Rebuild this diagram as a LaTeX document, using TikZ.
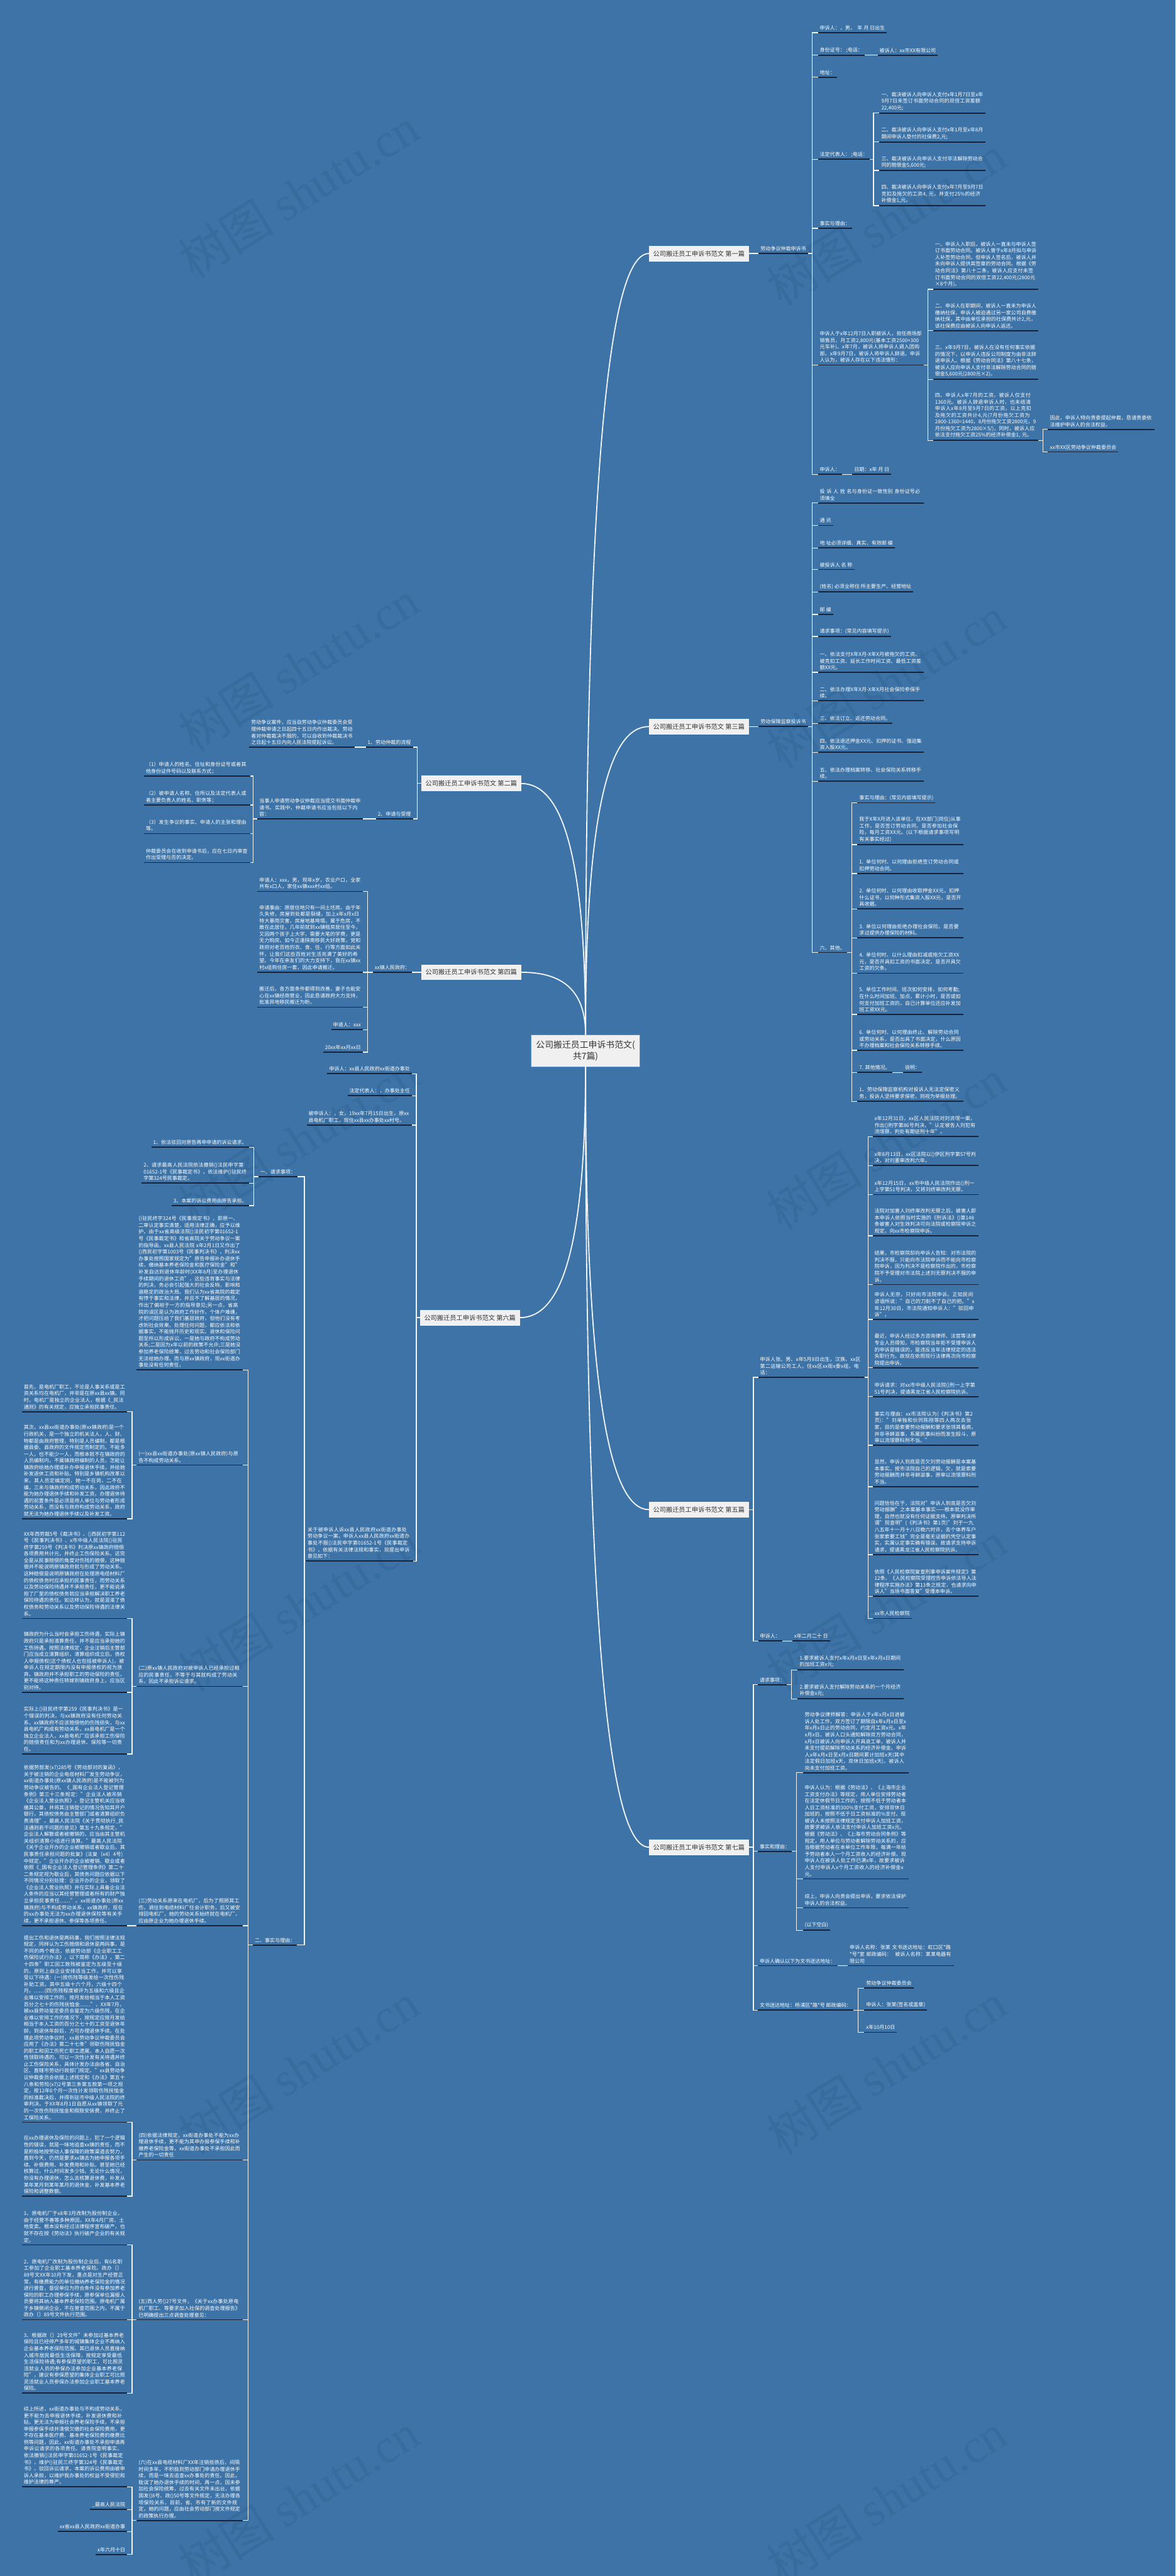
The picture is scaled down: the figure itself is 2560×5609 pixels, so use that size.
\documentclass[tikz,border=0pt]{standalone}
\usepackage{fontspec}
\setmainfont{Noto Sans CJK SC}
\newfontfamily\wmserif{Liberation Serif}
\XeTeXlinebreaklocale "zh"
\XeTeXlinebreakskip = 0pt plus 1pt
\definecolor{bg}{HTML}{3D73A6}
\definecolor{wm}{HTML}{386C9E}
\definecolor{ulc}{HTML}{15243A}
\definecolor{linec}{HTML}{F2F5F8}
\definecolor{boxc}{HTML}{F0F0F0}
\definecolor{tdark}{HTML}{333333}
\definecolor{rootedge}{HTML}{5B93D1}
\newcommand{\leaffont}{\fontsize{11}{14.5}\selectfont}
\newcommand{\topicfont}{\fontsize{14}{17}\selectfont}
\newcommand{\rootfont}{\fontsize{19}{24}\selectfont}
\newcommand{\wmfont}{\fontsize{105}{110}\selectfont}

\begin{document}
\begin{tikzpicture}[x=1pt, y=-1pt]
    \tikzstyle{uline}=[draw=ulc, line width=2.5pt]
    \tikzstyle{leaf}=[font=\leaffont, text=white, inner xsep=4pt, inner ysep=5pt, align=left, append after command={(\tikzlastnode.south west) edge[uline] (\tikzlastnode.south east)}]
    \tikzstyle{rleaf}=[leaf, anchor=south west]
    \tikzstyle{lleaf}=[leaf, anchor=south east]
    \tikzstyle{topic}=[fill=boxc, text=tdark, font=\topicfont, inner xsep=9pt, minimum height=34pt]
    \tikzstyle{rootbox}=[fill=boxc, draw=rootedge, line width=1pt, text=tdark, font=\rootfont, align=center, minimum width=237pt, minimum height=69pt]
    \tikzstyle{conn}=[draw=linec, line width=1.8pt]
    \tikzstyle{branchline}=[draw=linec, line width=2.5pt]
    \tikzstyle{wmtext}=[text=wm, font=\wmfont, rotate=32]

    \useasboundingbox (0,0) rectangle (2560,5609);
    \fill[bg] (0,0) rectangle (2560,5609);

    \node[wmtext] (wm1) at (650,420) {树图 {\wmserif shutu.cn}};
    \node[wmtext] (wm2) at (650,1450) {树图 {\wmserif shutu.cn}};
    \node[wmtext] (wm3) at (650,2480) {树图 {\wmserif shutu.cn}};
    \node[wmtext] (wm4) at (650,3498) {树图 {\wmserif shutu.cn}};
    \node[wmtext] (wm5) at (650,4504) {树图 {\wmserif shutu.cn}};
    \node[wmtext] (wm6) at (650,5440) {树图 {\wmserif shutu.cn}};
    \node[wmtext] (wm7) at (1930,480) {树图 {\wmserif shutu.cn}};
    \node[wmtext] (wm8) at (1930,1486) {树图 {\wmserif shutu.cn}};
    \node[wmtext] (wm9) at (1930,2492) {树图 {\wmserif shutu.cn}};
    \node[wmtext] (wm10) at (1930,3498) {树图 {\wmserif shutu.cn}};
    \node[wmtext] (wm11) at (1930,4504) {树图 {\wmserif shutu.cn}};
    \node[wmtext] (wm12) at (1930,5440) {树图 {\wmserif shutu.cn}};

    \node[rootbox] (root) at (1275,2288) {公司搬迁员工申诉书范文(\\共7篇)};

    \node[topic, anchor=west] (p1) at (1413,552) {公司搬迁员工申诉书范文 第一篇};
    \node[topic, anchor=east] (p2) at (1135,1706) {公司搬迁员工申诉书范文 第二篇};
    \node[topic, anchor=west] (p3) at (1413,1582) {公司搬迁员工申诉书范文 第三篇};
    \node[topic, anchor=east] (p4) at (1135,2117) {公司搬迁员工申诉书范文 第四篇};
    \node[topic, anchor=west] (p5) at (1413,3287) {公司搬迁员工申诉书范文 第五篇};
    \node[topic, anchor=east] (p6) at (1132,2869) {公司搬迁员工申诉书范文 第六篇};
    \node[topic, anchor=west] (p7) at (1413,4022) {公司搬迁员工申诉书范文 第七篇};

    \draw[branchline] (root.north) .. controls (1275,977) and (1330,552) .. (p1.west);
    \draw[branchline] (root.north) .. controls (1275,1843) and (1219,1706) .. (p2.east);
    \draw[branchline] (root.north) .. controls (1275,1750) and (1330,1582) .. (p3.west);
    \draw[branchline] (root.north) .. controls (1275,2151) and (1219,2117) .. (p4.east);
    \draw[branchline] (root.south) .. controls (1275,3046) and (1330,3287) .. (p5.west);
    \draw[branchline] (root.south) .. controls (1275,2732) and (1218,2869) .. (p6.east);
    \draw[branchline] (root.south) .. controls (1275,3597) and (1330,4022) .. (p7.west);

    % 第一篇
    \node[rleaf] (p1t) at (1652,552) {劳动争议仲裁申诉书};
    \node[rleaf] (p1a) at (1781,71) {申诉人：，男，\ \ 年 月 日出生};
    \node[rleaf] (p1b) at (1781,120) {身份证号：\ ;电话：};
    \node[rleaf] (p1b1) at (1911,120) {被诉人：xx市XX有限公司};
    \node[rleaf] (p1c) at (1781,168) {地址：};
    \node[rleaf] (p1d) at (1781,347) {法定代表人：\ ;电话：};
    \node[rleaf, text width=222pt] (p1d1) at (1915,246) {一、裁决被诉人向申诉人支付x年1月7日至x年9月7日未签订书面劳动合同的双倍工资差额22,400元;};
    \node[rleaf, text width=222pt] (p1d2) at (1915,309) {二、裁决被诉人向申诉人支付x年1月至x年8月期间申诉人垫付的社保费2,元;};
    \node[rleaf, text width=222pt] (p1d3) at (1915,371) {三、裁决被诉人向申诉人支付非法解除劳动合同的赔偿金5,600元;};
    \node[rleaf, text width=222pt] (p1d4) at (1915,448) {四、裁决被诉人向申诉人支付x年7月至9月7日克扣及拖欠的工资4, 元，并支付25\%的经济补偿金1,元。};
    \node[rleaf] (p1e) at (1781,497) {事实与理由：};
    \node[rleaf, text width=222pt] (p1f) at (1781,795) {申诉人于x年12月7日入职被诉人，担任商场部销售员，月工资2,800元(基本工资2500+300元车补)。x年7月，被诉人将申诉人调入团购部。x年9月7日，被诉人将申诉人辞退。申诉人认为，被诉人存在以下违法情形：};
    \node[rleaf, text width=221pt] (p1f1) at (2032,630) {一、申诉人入职后，被诉人一直未与申诉人签订书面劳动合同。被诉人曾于x年8月拟与申诉人补签劳动合同，但申诉人签名后，被诉人并未向申诉人提供其签章的劳动合同。根据《劳动合同法》第八十二条，被诉人应支付未签订书面劳动合同的双倍工资22,400元(2800元×8个月)。};
    \node[rleaf, text width=221pt] (p1f2) at (2032,720) {二、申诉人在职期间，被诉人一直未为申诉人缴纳社保，申诉人被迫通过另一家公司自费缴纳社保，其中由单位承担的社保费共计2,元，该社保费应由被诉人向申诉人返还。};
    \node[rleaf, text width=221pt] (p1f3) at (2032,826) {三、x年9月7日，被诉人在没有任何事实依据的情况下，以申诉人违反公司制度为由非法辞退申诉人。根据《劳动合同法》第八十七条，被诉人应向申诉人支付非法解除劳动合同的赔偿金5,600元(2800元×2)。};
    \node[rleaf, text width=221pt] (p1f4) at (2032,959) {四、申诉人x年7月的工资，被诉人仅支付1360元。被诉人辞退申诉人时，也未结清申诉人x年8月至9月7日的工资，以上克扣及拖欠的工资共计4,元(7月份拖欠工资为2800-1360=1440，8月份拖欠工资2800元，9月份拖欠工资为2800×5/)，同时，被诉人应依法支付拖欠工资25\%的经济补偿金1, 元。};
    \node[rleaf, text width=224pt] (p1f41) at (2282,935) {因此，申诉人特向贵委提起仲裁，恳请贵委依法维护申诉人的合法权益。};
    \node[rleaf] (p1f42) at (2282,984) {xx市XX区劳动争议仲裁委员会};
    \node[rleaf] (p1g) at (1781,1033) {申诉人：};
    \node[rleaf] (p1g1) at (1856,1033) {日期：x年 月 日};
    \draw[conn] (p1.east) -- (p1t.south west);
    \draw[conn] (p1t.south east) -- ++(9,0) |- (p1a.south west);
    \draw[conn] (p1t.south east) -- ++(9,0) |- (p1b.south west);
    \draw[conn] (p1t.south east) -- ++(9,0) |- (p1c.south west);
    \draw[conn] (p1t.south east) -- ++(9,0) |- (p1d.south west);
    \draw[conn] (p1t.south east) -- ++(9,0) |- (p1e.south west);
    \draw[conn] (p1t.south east) -- ++(9,0) |- (p1f.south west);
    \draw[conn] (p1t.south east) -- ++(9,0) |- (p1g.south west);
    \draw[conn] (p1b.south east) -- (p1b1.south west);
    \draw[conn] (p1d.south east) -- ++(8,0) |- (p1d1.south west);
    \draw[conn] (p1d.south east) -- ++(8,0) |- (p1d2.south west);
    \draw[conn] (p1d.south east) -- ++(8,0) |- (p1d3.south west);
    \draw[conn] (p1d.south east) -- ++(8,0) |- (p1d4.south west);
    \draw[conn] (p1f.south east) -- ++(9,0) |- (p1f1.south west);
    \draw[conn] (p1f.south east) -- ++(9,0) |- (p1f2.south west);
    \draw[conn] (p1f.south east) -- ++(9,0) |- (p1f3.south west);
    \draw[conn] (p1f.south east) -- ++(9,0) |- (p1f4.south west);
    \draw[conn] (p1f4.south east) -- ++(10,0) |- (p1f41.south west);
    \draw[conn] (p1f4.south east) -- ++(10,0) |- (p1f42.south west);
    \draw[conn] (p1g.south east) -- (p1g1.south west);

    % 第三篇
    \node[rleaf] (p3t) at (1652,1582) {劳动保障监察投诉书};
    \node[rleaf, text width=222pt] (p3a) at (1781,1095) {投 诉 人 姓 名与身份证一致性别 身份证号必须填全};
    \node[rleaf] (p3b) at (1781,1144) {通 讯};
    \node[rleaf] (p3c) at (1781,1193) {地 址必须详细、真实、有效邮 编};
    \node[rleaf] (p3d) at (1781,1240) {被投诉人 名 称};
    \node[rleaf] (p3e) at (1781,1289) {(姓名) 必须全称住 所主要生产、经营地址};
    \node[rleaf] (p3f) at (1781,1338) {邮 编};
    \node[rleaf] (p3g) at (1781,1386) {请求事项：(常见内容填写提示)};
    \node[rleaf, text width=222pt] (p3h) at (1781,1464) {一、依法支付X年X月-X年X月被拖欠的工资、被克扣工资、延长工作时间工资、最低工资差额XX元。};
    \node[rleaf, text width=222pt] (p3i) at (1781,1526) {二、依法办理X年X月-X年X月社会保险参保手续。};
    \node[rleaf] (p3j) at (1781,1575) {三、依法订立、返还劳动合同。};
    \node[rleaf, text width=222pt] (p3k) at (1781,1638) {四、依法退还押金XX元、扣押的证书、强迫集资入股XX元。};
    \node[rleaf, text width=222pt] (p3l) at (1781,1701) {五、依法办理档案转移、社会保险关系转移手续。};
    \node[rleaf] (p3m) at (1781,2074) {六、其他。};
    \node[rleaf] (p3m1) at (1867,1748) {事实与理由：(常见内容填写提示)};
    \node[rleaf, text width=222pt] (p3m2) at (1867,1839) {我于X年X月进入该单位，在XX部门(岗位)从事工作，是否签订劳动合同，是否参加社会保险，每月工资XX元。(以下根据请求事项写明有关事实经过)};
    \node[rleaf, text width=222pt] (p3m3) at (1867,1902) {1. 单位何时、以何理由拒绝签订劳动合同或扣押劳动合同。};
    \node[rleaf, text width=222pt] (p3m4) at (1867,1979) {2. 单位何时、以何理由收取押金XX元，扣押什么证书，以何种形式集资入股XX元，是否开具收据。};
    \node[rleaf, text width=222pt] (p3m5) at (1867,2042) {3. 单位以何理由拒绝办理社会保险，是否要求过提供办理保险的材料。};
    \node[rleaf, text width=222pt] (p3m6) at (1867,2119) {4. 单位何时、以什么理由扣减或拖欠工资XX元，是否开具扣工资的书面决定，是否开具欠工资的欠条。};
    \node[rleaf, text width=222pt] (p3m7) at (1867,2209) {5. 单位工作时间、班次如何安排，如何考勤;在什么时间加班、加点，累计小时，是否或如何支付加班工资的，自己计算单位还应补发加班工资XX元。};
    \node[rleaf, text width=222pt] (p3m8) at (1867,2287) {6. 单位何时、以何理由终止、解除劳动合同或劳动关系，是否出具了书面决定，什么原因不办理档案和社会保险关系转移手续。};
    \node[rleaf] (p3m9) at (1867,2335) {7. 其他情况。};
    \node[rleaf] (p3m91) at (1966,2335) {说明：};
    \node[rleaf, text width=222pt] (p3m10) at (1867,2398) {1、劳动保障监察机构对投诉人无法定保密义务，投诉人坚持要求保密，则视为举报处理。};
    \draw[conn] (p3.east) -- (p3t.south west);
    \draw[conn] (p3t.south east) -- ++(9,0) |- (p3a.south west);
    \draw[conn] (p3t.south east) -- ++(9,0) |- (p3b.south west);
    \draw[conn] (p3t.south east) -- ++(9,0) |- (p3c.south west);
    \draw[conn] (p3t.south east) -- ++(9,0) |- (p3d.south west);
    \draw[conn] (p3t.south east) -- ++(9,0) |- (p3e.south west);
    \draw[conn] (p3t.south east) -- ++(9,0) |- (p3f.south west);
    \draw[conn] (p3t.south east) -- ++(9,0) |- (p3g.south west);
    \draw[conn] (p3t.south east) -- ++(9,0) |- (p3h.south west);
    \draw[conn] (p3t.south east) -- ++(9,0) |- (p3i.south west);
    \draw[conn] (p3t.south east) -- ++(9,0) |- (p3j.south west);
    \draw[conn] (p3t.south east) -- ++(9,0) |- (p3k.south west);
    \draw[conn] (p3t.south east) -- ++(9,0) |- (p3l.south west);
    \draw[conn] (p3t.south east) -- ++(9,0) |- (p3m.south west);
    \draw[conn] (p3m.south east) -- ++(10,0) |- (p3m1.south west);
    \draw[conn] (p3m.south east) -- ++(10,0) |- (p3m2.south west);
    \draw[conn] (p3m.south east) -- ++(10,0) |- (p3m3.south west);
    \draw[conn] (p3m.south east) -- ++(10,0) |- (p3m4.south west);
    \draw[conn] (p3m.south east) -- ++(10,0) |- (p3m5.south west);
    \draw[conn] (p3m.south east) -- ++(10,0) |- (p3m6.south west);
    \draw[conn] (p3m.south east) -- ++(10,0) |- (p3m7.south west);
    \draw[conn] (p3m.south east) -- ++(10,0) |- (p3m8.south west);
    \draw[conn] (p3m.south east) -- ++(10,0) |- (p3m9.south west);
    \draw[conn] (p3m.south east) -- ++(10,0) |- (p3m10.south west);
    \draw[conn] (p3m9.south east) -- (p3m91.south west);

    % 第五篇
    \node[rleaf, text width=223pt] (p5a) at (1651,2999) {申诉人张、男、x年5月8日出生，汉族、xx区第二运输公司工人，住xx区xx街x委x组，电话：};
    \node[rleaf, text width=223pt] (p5a1) at (1900,2475) {x年12月31日，xx区人民法院对刘流氓一案，作出()刑字第86号判决，"认定被告人刘犯有流氓罪，判处有期徒刑十年"。};
    \node[rleaf, text width=223pt] (p5a2) at (1900,2538) {x年8月13日，xx区法院以()伊区刑字第57号判决，对刘重审改判六年。};
    \node[rleaf, text width=223pt] (p5a3) at (1900,2601) {x年12月15日，xx市中级人民法院作出()刑一上字第51号判决，又将刘终审改判无罪。};
    \node[rleaf, text width=223pt] (p5a4) at (1900,2691) {法院对加害人刘终审改判无罪之后，被害人即本申诉人依照当时实施的《刑诉法》()第148条被害人对生效判决可向法院或检察院申诉之规定，向xx市检察院申诉。};
    \node[rleaf, text width=223pt] (p5a5) at (1900,2797) {结果，市检察院却向申诉人告知：对市法院的判决不服，只能向市法院申诉而不能向市检察院申诉，因为判决不是检察院作出的，市检察院不予受理对市法院上述刘无罪判决不服的申诉。};
    \node[rleaf, text width=223pt] (p5a6) at (1900,2873) {申诉人无奈，只好向市法院申诉。正如民间谚语所说："自己的刀削不了自己的把。"x年12月30日，市法院通知申诉人："驳回申诉"。};
    \node[rleaf, text width=223pt] (p5a7) at (1900,2978) {最近，申诉人经过多方咨询律师、法官等法律专业人员得知，市检察院当年拒不受理申诉人的申诉是错误的，是违反当年法律规定的违法失职行为。故现在依照现行法律再次向市检察院提出申诉。};
    \node[rleaf, text width=223pt] (p5a8) at (1900,3041) {申诉请求：对xx市中级人民法院()刑一上字第51号判决，提请黑龙江省人民检察院抗诉。};
    \node[rleaf, text width=223pt] (p5a9) at (1900,3147) {事实与理由：xx市法院认为(《判决书》第2页)："刘单独和伙同陈刚等四人两次去张家，目的是索要劳动报酬和要求张领其看病，并非寻衅滋事，系属民事纠纷而发生殴斗，原审以流氓罪科刑不当。"};
    \node[rleaf, text width=223pt] (p5a10) at (1900,3237) {显然，申诉人到底是否欠刘劳动报酬是本案基本事实。按市法院自己的逻辑，欠，就是索要劳动报酬而并非寻衅滋事，原审以流氓罪科刑不当。};
    \node[rleaf, text width=223pt] (p5a11) at (1900,3385) {问题恰恰在于，法院对"申诉人到底是否欠刘劳动报酬"之本案基本事实——根本就没作审理，自然也就没有任何证据支持。原审判决所谓"现查明"(《判决书》第1页)"刘于一九八五年十一月十八日晚六时许，去个体养车户张家索要工钱"完全是毫无证据的凭空认定事实，实属认定事实确有错误。故请求支持申诉请求，提请黑龙江省人民检察院抗诉。};
    \node[rleaf, text width=223pt] (p5a12) at (1900,3476) {依照《人民检察院复查刑事申诉案件规定》第12条、《人民检察院受理控告申诉依法导入法律程序实施办法》第13条之规定，也请求向申诉人"当场书面答复"受理本申诉。};
    \node[rleaf] (p5a13) at (1900,3524) {xx市人民检察院};
    \node[rleaf] (p5b) at (1651,3573) {申诉人：};
    \node[rleaf] (p5b1) at (1725,3573) {x年二月二十 日};
    \draw[conn] (p5.east) -- ++(10,0) |- (p5a.south west);
    \draw[conn] (p5.east) -- ++(10,0) |- (p5b.south west);
    \draw[conn] (p5a.south east) -- ++(8,0) |- (p5a1.south west);
    \draw[conn] (p5a.south east) -- ++(8,0) |- (p5a2.south west);
    \draw[conn] (p5a.south east) -- ++(8,0) |- (p5a3.south west);
    \draw[conn] (p5a.south east) -- ++(8,0) |- (p5a4.south west);
    \draw[conn] (p5a.south east) -- ++(8,0) |- (p5a5.south west);
    \draw[conn] (p5a.south east) -- ++(8,0) |- (p5a6.south west);
    \draw[conn] (p5a.south east) -- ++(8,0) |- (p5a7.south west);
    \draw[conn] (p5a.south east) -- ++(8,0) |- (p5a8.south west);
    \draw[conn] (p5a.south east) -- ++(8,0) |- (p5a9.south west);
    \draw[conn] (p5a.south east) -- ++(8,0) |- (p5a10.south west);
    \draw[conn] (p5a.south east) -- ++(8,0) |- (p5a11.south west);
    \draw[conn] (p5a.south east) -- ++(8,0) |- (p5a12.south west);
    \draw[conn] (p5a.south east) -- ++(8,0) |- (p5a13.south west);
    \draw[conn] (p5b.south east) -- (p5b1.south west);

    % 第七篇
    \node[rleaf] (p7a) at (1650,3668) {请求事项：};
    \node[rleaf, text width=222pt] (p7a1) at (1737,3636) {1.要求被诉人支付x年x月x日至x年x月x日期间的加班工资x元;};
    \node[rleaf, text width=222pt] (p7a2) at (1737,3699) {2.要求被诉人支付解除劳动关系的一个月经济补偿金x元;};
    \node[rleaf] (p7b) at (1650,4031) {事实和理由：};
    \node[rleaf, text width=222pt] (p7b1) at (1748,3860) {劳动争议律师解答：申诉人于x年x月x日进被诉人处工作，双方签订了期限自x年x月x日至x年x月x日止的劳动合同，约定月工资x元。x年x月x日，被诉人口头通知解除双方劳动合同，x月x日被诉人向申诉人开具退工单，被诉人并未支付提前解除劳动关系的经济补偿金。申诉人x年x月x日至x月x日期间累计加班x天(其中法定假日加班x天，双休日加班x天)，被诉人尚未支付加班工资。};
    \node[rleaf, text width=222pt] (p7b2) at (1748,4091) {申诉人认为：根据《劳动法》、《上海市企业工资支付办法》等规定，用人单位安排劳动者在法定休假节日工作的，按照不低于劳动者本人日工资标准的300\%支付工资，安排双休日加班的，按照不低于日工资标准的\%支付。现被诉人未按照法律规定支付申诉人加班工资，故要求被诉人依法支付申诉人加班工资x元。根据《劳动法》、《上海市劳动合同条例》等规定，用人单位与劳动者解除劳动关系的，应当根据劳动者在本单位工作年限，每满一年给予劳动者本人一个月工资收入的经济补偿。现申诉人在被诉人处工作已满x年，故要求被诉人支付申诉人x个月工资收入的经济补偿金x元。};
    \node[rleaf, text width=222pt] (p7b3) at (1748,4154) {综上，申诉人向贵会提出申诉，要求依法保护申诉人的合法权益。};
    \node[rleaf] (p7b4) at (1748,4203) {(以下空白)};
    \node[rleaf] (p7c) at (1650,4280) {申诉人确认以下为文书送达地址：};
    \node[rleaf, text width=223pt] (p7c1) at (1846,4280) {申诉人名称：张某 文书送达地址：虹口区*路*号*室 邮政编码：\ \ 被诉人名称：某某电器有限公司};
    \node[rleaf] (p7d) at (1650,4377) {文书送达地址：杨浦区*路*号 邮政编码：};
    \node[rleaf] (p7d1) at (1882,4329) {劳动争议仲裁委员会};
    \node[rleaf] (p7d2) at (1882,4377) {申诉人：张某(签名或盖章)};
    \node[rleaf] (p7d3) at (1882,4425) {x年10月10日};
    \draw[conn] (p7.east) -- ++(10,0) |- (p7a.south west);
    \draw[conn] (p7.east) -- ++(10,0) |- (p7b.south west);
    \draw[conn] (p7.east) -- ++(10,0) |- (p7c.south west);
    \draw[conn] (p7.east) -- ++(10,0) |- (p7d.south west);
    \draw[conn] (p7a.south east) -- ++(10,0) |- (p7a1.south west);
    \draw[conn] (p7a.south east) -- ++(10,0) |- (p7a2.south west);
    \draw[conn] (p7b.south east) -- ++(10,0) |- (p7b1.south west);
    \draw[conn] (p7b.south east) -- ++(10,0) |- (p7b2.south west);
    \draw[conn] (p7b.south east) -- ++(10,0) |- (p7b3.south west);
    \draw[conn] (p7b.south east) -- ++(10,0) |- (p7b4.south west);
    \draw[conn] (p7c.south east) -- (p7c1.south west);
    \draw[conn] (p7d.south east) -- ++(10,0) |- (p7d1.south west);
    \draw[conn] (p7d.south east) -- ++(10,0) |- (p7d2.south west);
    \draw[conn] (p7d.south east) -- ++(10,0) |- (p7d3.south west);

    % 第二篇
    \node[lleaf] (p2a) at (899,1627) {1、劳动仲裁的流程};
    \node[lleaf, text width=222pt] (p2a1) at (773,1627) {劳动争议案件，应当自劳动争议仲裁委员会受理仲裁申请之日起四十五日内作出裁决。劳动者对仲裁裁决不服的，可以自收到仲裁裁决书之日起十五日内向人民法院提起诉讼。};
    \node[lleaf] (p2b) at (899,1783) {2、申请与受理};
    \node[lleaf, text width=221pt] (p2b1) at (790,1783) {当事人申请劳动争议仲裁应当提交书面仲裁申请书。实践中，仲裁申请书应当包括以下内容：};
    \node[lleaf, text width=223pt] (p2b1a) at (545,1690) {（1）申请人的姓名、住址和身份证号或者其他身份证件号码以及联系方式；};
    \node[lleaf, text width=223pt] (p2b1b) at (545,1753) {（2）被申请人名称、住所以及法定代表人或者主要负责人的姓名、职务等；};
    \node[lleaf, text width=223pt] (p2b1c) at (545,1815) {（3）发生争议的事实、申请人的主张和理由等。};
    \node[lleaf, text width=223pt] (p2b1d) at (545,1878) {仲裁委员会在收到申请书后，应在七日内审查作出受理与否的决定。};
    \draw[conn] (p2.west) -- ++(-9,0) |- (p2a.south east);
    \draw[conn] (p2.west) -- ++(-9,0) |- (p2b.south east);
    \draw[conn] (p2a.south west) -- (p2a1.south east);
    \draw[conn] (p2b.south west) -- (p2b1.south east);
    \draw[conn] (p2b1.south west) -- ++(-9,0) |- (p2b1a.south east);
    \draw[conn] (p2b1.south west) -- ++(-9,0) |- (p2b1b.south east);
    \draw[conn] (p2b1.south west) -- ++(-9,0) |- (p2b1c.south east);
    \draw[conn] (p2b1.south west) -- ++(-9,0) |- (p2b1d.south east);

    % 第四篇
    \node[lleaf] (p4t) at (897,2117) {xx镇人民政府：};
    \node[lleaf, text width=221pt] (p4a) at (790,1941) {申请人：xxx，男，现年x岁，农业户口，全家共有x口人，家住xx镇xxx村xx组。};
    \node[lleaf, text width=221pt] (p4b) at (790,2117) {申请事由：原居住地只有一间土坯房。由于年久失修，房屋到处都是裂缝，加上x年x月x日特大暴雨灾害，房屋地基垮塌，属于危房，不敢在此居住，几年前就到xx镇租房居住至今，又因两个孩子上大学，需要大笔的学费，更是无力购房。如今正逢陕南移民大好政策，党和政府对老百姓的衣、食、住、行等方面如此关怀，让我们这些百姓对生活充满了美好的希望。今年在亲友们的大力支持下，我在xx镇xx村x组购住房一套，因此申请搬迁。};
    \node[lleaf, text width=221pt] (p4c) at (790,2193) {搬迁后，各方面条件都得到改善，妻子也能安心在xx镇经商营业，因此恳请政府大力支持，批准异地移民搬迁为盼。};
    \node[lleaf] (p4d) at (790,2242) {申请人：xxx};
    \node[lleaf] (p4e) at (790,2291) {20xx年xx月xx日};
    \draw[conn] (p4.west) -- (p4t.south east);
    \draw[conn] (p4t.south west) -- ++(-11,0) |- (p4a.south east);
    \draw[conn] (p4t.south west) -- ++(-11,0) |- (p4b.south east);
    \draw[conn] (p4t.south west) -- ++(-11,0) |- (p4c.south east);
    \draw[conn] (p4t.south west) -- ++(-11,0) |- (p4d.south east);
    \draw[conn] (p4t.south west) -- ++(-11,0) |- (p4e.south east);

    % 第六篇
    \node[lleaf] (p6a) at (897,2338) {申诉人：xx县人民政府xx街道办事处};
    \node[lleaf] (p6b) at (897,2386) {法定代表人：，办事处主任};
    \node[lleaf, text width=221pt] (p6c) at (897,2450) {被申诉人：，女，19xx年7月15日出生，原xx县电机厂职工，现住xx县xx办事处xx村号。};
    \node[lleaf, text width=225pt] (p6d) at (899,3399) {关于被申诉人诉xx县人民政府xx街道办事处劳动争议一案，申诉人xx县人民政府xx街道办事处不服()法民申字第01652-1号《民事裁定书》，依据有关法律法规和事实，现提出申诉意见如下：};
    \node[lleaf] (p6d1) at (648,2562) {一、请求事项：};
    \node[lleaf] (p6d1a) at (542,2498) {1、依法驳回对原告再申申请的诉讼请求。};
    \node[lleaf, text width=225pt] (p6d1b) at (542,2576) {2、请求最高人民法院依法撤销()法民申字第01652-1号《民事裁定书》，依法维护()驻民终字第324号民事裁定。};
    \node[lleaf] (p6d1c) at (542,2625) {3、本案的诉讼费用由原告承担。};
    \node[lleaf] (p6d2) at (647,4235) {二、事实与理由：};
    \node[lleaf, text width=223pt] (p6e1) at (529,2983) {()驻民终字324号《民事规定书》，即原一、二审认定事实清楚，适用法律正确，应予以维护。由于xx省高级法院()法民初字第01652-1号《民事裁定书》和省高院关于劳动争议一案的指导函，xx县人民法院 x年2月1日又作出了()西民初字第1003号《民事判决书》，判决xx办事处按照国家规定为"原告申报补办退休手续，缴纳基本养老保险金和医疗保险金"和"补发自达到退休年龄时(XX年8月)至办理退休手续期间的退休工资"，这些违背事实与法律的判决，务必会引起强大的社会反响，影响和谐稳定的政治大局。我们认为xx省高院的裁定有悖于事实和法律，并且不了解基层的情况，作出了偏袒于一方的指导意见;另一点，省高院的误区是认为政府工作好作，个体户难缠，才把问题压给了我们基层政府，但他们没有考虑到社会效果。处理任何问题，都应依法和依据事实，不能抛开历史和现实。退休和保险问题至所以形成诉讼，一是她与政府不构成劳动关系;二是因为x年以前的政策不允许;三是她没参加养老保险统筹，过去劳动和社会保险部门无法给她办理。而与原xx镇政府，现xx街道办事处没有任何责任，};
    \node[lleaf, text width=223pt] (p6e2) at (529,3190) {(一)xx县xx街道办事处(原xx镇人民政府)与原告不构成劳动关系。};
    \node[lleaf, text width=223pt] (p6e3) at (529,3672) {(二)原xx镇人民政府对被申诉人已经承担过相应的民事责任，不等于与其就构成了劳动关系，因此不承担诉讼请求。};
    \node[lleaf, text width=223pt] (p6e4) at (529,4193) {(三)劳动关系原来在电机厂，后为了照顾其工伤，调往到电缆材料厂任会计职务，后又被安排回电机厂，她的劳动关系始终就在电机厂，应由原企业为她办理退休手续。};
    \node[lleaf, text width=223pt] (p6e5) at (529,4703) {(四)依据法律规定，xx街道办事处不能为xx办理退休手续，更不能为其申办报参保手续和补缴养老保险金等，xx街道办事处不承担因此而产生的一切责任};
    \node[lleaf, text width=223pt] (p6e6) at (529,5051) {(五)西人劳()27号文件，《关于xx办事处原电机厂职工、等要求加入社保的调查处理报告》已明确提出三点调查处理意见：};
    \node[lleaf, text width=223pt] (p6e7) at (529,5488) {(六)在xx县电缆材料厂XX年注销抵债后，间隔时间多年，不积极到劳动部门申请办理退休手续，而是一味去追查xx办事处的责任。因此，耽误了她办退休手续的时间，再一点，因未参加社会保险统筹，过去有关文件未出台，依据国发()8号、政()50号等文件规定，无法办理各项保险关系，目前，省、市有了新的文件规定，她的问题，应由社会劳动部门按文件规定的政策执行办理。};
    \node[lleaf, text width=221pt] (p6e2a) at (277,3074) {首先，是电机厂职工，不论是人事关系或是工资关系均在电机厂，并非是在原xx县xx镇。同时，电机厂是独立的企业法人，根据《\_民法通则》的有关规定，应独立承担民事责任。};
    \node[lleaf, text width=221pt] (p6e2b) at (277,3307) {其次，xx县xx街道办事处(原xx镇政府)是一个行政机关，是一个独立的机关法人，人、财、物都是由政府管理，特别是人员编制，都是根据县委、县政府的文件规定而制定的。不能多一人，也不能少一人，而根本就不在镇政府的人员编制内，不属镇政府编制的人员，怎能让镇政府给她办理或补办申报退休手续，并给她补发退休工资和补贴。特别是乡镇机构改革以来，其人员定编定岗，她一不在岗，二不在编，三未与镇政府构成劳动关系，因此政府不能为她办理退休手续和补发工资。办理退休待遇的前置条件是必须是用人单位与劳动者形成劳动关系，而没有与政府构成劳动关系，政府就无法为她办理退休手续以及补发工资。};
    \node[lleaf, text width=221pt] (p6e3a) at (277,3524) {XX年西劳裁5号《裁决书》、()西民初字第112号《民事判决书》、x市中级人民法院()驻民终字第259号《判决书》判决原xx镇政府赔偿各项费用共计元，并终止工伤保险关系。这完全是从民事赔偿的角度对伤残的赔偿，这种赔偿并不能说明原镇政府就与形成了劳动关系。这种赔偿是说明原镇政府在处理原电缆材料厂的债权债务时应承担的民事责任，而劳动关系以及劳动保险待遇并不承担责任，更不能说承担了厂里的债权债务就应当承担解决职工养老保险待遇的责任。如这样认为，就是混淆了债权债务和劳动关系以及劳动保险待遇的法律关系。};
    \node[lleaf, text width=221pt] (p6e3b) at (277,3685) {镇政府为什么当时会承担工伤待遇，实际上镇政府只是承担清算责任，并不是应当承担她的工伤待遇。按照法律规定，企业注销后主管部门应当成立清算组织，清算组织成立后，债权人申报债权(这个债权人也包括被申诉人)，被申诉人在规定期限内没有申报债权的视为放弃。镇政府并不承担职工的劳动保险的责任。更不能将这种责任转嫁到镇政府身上，应当区别对待。};
    \node[lleaf, text width=221pt] (p6e3c) at (277,3819) {实际上()驻民终字第259《民事判决书》是一个错误的判决，与xx镇政府没有任何劳动关系，xx镇政府不应该赔偿他的伤残损失，与xx县电机厂构成有劳动关系，xx县电机厂是一个独立企业法人，xx县电机厂应该承担工伤保险的赔偿责任和为xx办理退休、保险等一切责任。};
    \node[lleaf, text width=221pt] (p6e4a) at (277,4193) {依据劳部发(x7)285号《劳动部对的复函》，关于被注销的企业电缆材料厂发生劳动争议，xx街道办事处(原xx镇人民政府)是不能被列为劳动争议被告的。《\_国有企业法人登记管理条例》第三十三条规定："企业法人被吊销《企业法人营业执照》，登记主管机关应当收缴其公章，并将其注销登记的情况告知其开户银行，其债权债务由主管部门或者清算组织负责清理"。最高人民法院《关于贯彻执行\_民法通则若干问题的意见》第五十九条规定，"企业法人解散或者被撤销的，应当由其主管机关组织清算小组进行清算。"最高人民法院《关于企业开办的企业被撤销或者歇业后，其民事责任承担问题的批复》(法复〔x4〕4号)中规定，"企业开办的企业被撤销、歇业或者依照《\_国有企业法人登记管理条例》第二十二条规定视为歇业后，其债务问题应依据以下不同情况分别处理：企业开办的企业，领取了《企业法人营业执照》并在实际上具备企业法人条件的应当以其经营管理或者所有的财产独立承担民事责任……"。xx街道办事处(原xx镇政府)与不构成劳动关系，xx镇政府，现在的xx办事处无法为xx办理退休保险等有关手续，更不承担退休、参保等各项责任。};
    \node[lleaf, text width=221pt] (p6e5a) at (277,4621) {提出工伤和退休是两码事，我们按照法律法规规定，同样认为工伤赔偿和退休是两码事，是不同的两个概念，依据劳动部《企业职工工伤保险试行办法》，以下简称《办法》，第二十四条"职工因工致残被鉴定为五级至十级的，原则上由企业安排适当工作，并可以享受以下待遇：(一)按伤残等级发给一次性伤残补助工资。其中五级十六个月，六级十四个月。……(四)伤残程度被评为五级和六级且企业难以安排工作的，按月发给相当于本人工资百分之七十的伤残抚恤金……"，XX年7月，被xx县劳动鉴定委员会鉴定为六级伤残，在企业难以安排工作的情况下，按规定应按月发给相当于本人工资的百分之七十的工资至退休年龄，到退休年龄后，方可办理退休手续。在处理此项劳动争议时，xx县劳动争议仲裁委员会应用了《办法》第二十七条"领取伤残抚恤金的职工和因工伤死亡职工遗属，本人自愿一次性领取待遇的，可以一次性计发有关待遇并终止工伤保险关系，具体计发办法由各省、自治区、直辖市劳动行政部门规定。"xx县劳动争议仲裁委员会依据上述规定和《办法》第五十八条和劳险(x7)2号第三条第五款第一项之规定，按12年6个月一次性计发领取伤残抚恤金的标准裁决后，并得到驻市中级人民法院的终审判决。于XX年8月1日自愿从xx镇领取了元的一次性伤残抚恤金和假肢安装费，并终止了工保险关系。};
    \node[lleaf, text width=221pt] (p6e5b) at (277,4782) {在xx办理退休及保险的问题上，犯了一个逻辑性的错误，就是一味地追查xx镇的责任，而不是积极地按劳动人事保障的政策渠道去努力，直到今天，仍然是要求xx镇去为她申报各项手续、补偿费用、补发费用和补贴，甚至她已经核算过，什么时间发多少钱。无论什么情况，你没有办理退休，怎么去核算退休费，补发从某年某月到某年某月的退休金，补发基本养老保险和调整数额。};
    \node[lleaf, text width=221pt] (p6e6a) at (277,4888) {1、原电机厂于x8年3月改制为股份制企业，由于经营不善等多种原因，XX年4月厂房、土地变卖。根本没有经过法律程序宣布破产，也就不存在按《劳动法》执行破产企业的有关规定。};
    \node[lleaf, text width=221pt] (p6e6b) at (277,5051) {2、原电机厂改制为股份制企业后，有6名职工参加了企业职工基本养老保险。政办〔〕89号文XX年10月下发，重点是对生产经营正常，有缴费能力的单位缴纳养老保险金的情况进行普查，督促单位为符合条件没有参加养老保险的职工办理参保手续，原参保单位漏报人员要将其纳入基本养老保险范围。原电机厂属于乡镇倒闭企业，不在普查范围之内，不属于政办〔〕89号文件执行范围。};
    \node[lleaf, text width=221pt] (p6e6c) at (277,5211) {3、根据政〔〕29号文件"未参加过基本养老保险且已经停产多年的城镇集体企业不再纳入企业基本养老保险范围，其已退休人员直接纳入城市居民最低生活保障，按规定享受最低生活保险待遇;有参保愿望的职工，可比照灵活就业人员的参保办法参加企业基本养老保险"，建议有参保愿望的集体企业职工可比照灵活就业人员参保办法参加企业职工基本养老保险。};
    \node[lleaf, text width=221pt] (p6e7a) at (277,5415) {综上所述，xx街道办事处与不构成劳动关系，更不能为去申报退休手续，补发退休费和补贴，更无法为申报社会养老保险手续，不承担申报参保手续并清偿欠缴的社会保险费用，更不存在基本医疗费、基本养老保险费的缴费比例等问题，因此，xx街道办事处不承担申请再申诉讼请求的各项责任。请贵院查明事实，依法撤销()法民申字第01652-1号《民事裁定书》，维护()驻民三终字第324号《民事裁定书》，驳回诉讼请求，本案的诉讼费用由被申诉人承担，以维护我办事处的权益不受侵犯和维护法律的尊严。};
    \node[lleaf] (p6e7b) at (277,5464) {\_最高人民法院};
    \node[lleaf] (p6e7c) at (277,5512) {xx省xx县人民政府xx街道办事};
    \node[lleaf] (p6e7d) at (277,5562) {x年六月十日};
    \draw[conn] (p6.west) -- ++(-8,0) |- (p6a.south east);
    \draw[conn] (p6.west) -- ++(-8,0) |- (p6b.south east);
    \draw[conn] (p6.west) -- ++(-8,0) |- (p6c.south east);
    \draw[conn] (p6.west) -- ++(-8,0) |- (p6d.south east);
    \draw[conn] (p6d.south west) -- ++(-3,0) |- (p6d1.south east);
    \draw[conn] (p6d.south west) -- ++(-3,0) |- (p6d2.south east);
    \draw[conn] (p6d1.south west) -- ++(-10,0) |- (p6d1a.south east);
    \draw[conn] (p6d1.south west) -- ++(-10,0) |- (p6d1b.south east);
    \draw[conn] (p6d1.south west) -- ++(-10,0) |- (p6d1c.south east);
    \draw[conn] (p6d2.south west) -- ++(-10,0) |- (p6e1.south east);
    \draw[conn] (p6d2.south west) -- ++(-10,0) |- (p6e2.south east);
    \draw[conn] (p6d2.south west) -- ++(-10,0) |- (p6e3.south east);
    \draw[conn] (p6d2.south west) -- ++(-10,0) |- (p6e4.south east);
    \draw[conn] (p6d2.south west) -- ++(-10,0) |- (p6e5.south east);
    \draw[conn] (p6d2.south west) -- ++(-10,0) |- (p6e6.south east);
    \draw[conn] (p6d2.south west) -- ++(-10,0) |- (p6e7.south east);
    \draw[conn] (p6e2.south west) -- ++(-10,0) |- (p6e2a.south east);
    \draw[conn] (p6e2.south west) -- ++(-10,0) |- (p6e2b.south east);
    \draw[conn] (p6e3.south west) -- ++(-10,0) |- (p6e3a.south east);
    \draw[conn] (p6e3.south west) -- ++(-10,0) |- (p6e3b.south east);
    \draw[conn] (p6e3.south west) -- ++(-10,0) |- (p6e3c.south east);
    \draw[conn] (p6e4.south west) -- (p6e4a.south east);
    \draw[conn] (p6e5.south west) -- ++(-10,0) |- (p6e5a.south east);
    \draw[conn] (p6e5.south west) -- ++(-10,0) |- (p6e5b.south east);
    \draw[conn] (p6e6.south west) -- ++(-10,0) |- (p6e6a.south east);
    \draw[conn] (p6e6.south west) -- ++(-10,0) |- (p6e6b.south east);
    \draw[conn] (p6e6.south west) -- ++(-10,0) |- (p6e6c.south east);
    \draw[conn] (p6e7.south west) -- ++(-10,0) |- (p6e7a.south east);
    \draw[conn] (p6e7.south west) -- ++(-10,0) |- (p6e7b.south east);
    \draw[conn] (p6e7.south west) -- ++(-10,0) |- (p6e7c.south east);
    \draw[conn] (p6e7.south west) -- ++(-10,0) |- (p6e7d.south east);
\end{tikzpicture}
\end{document}
